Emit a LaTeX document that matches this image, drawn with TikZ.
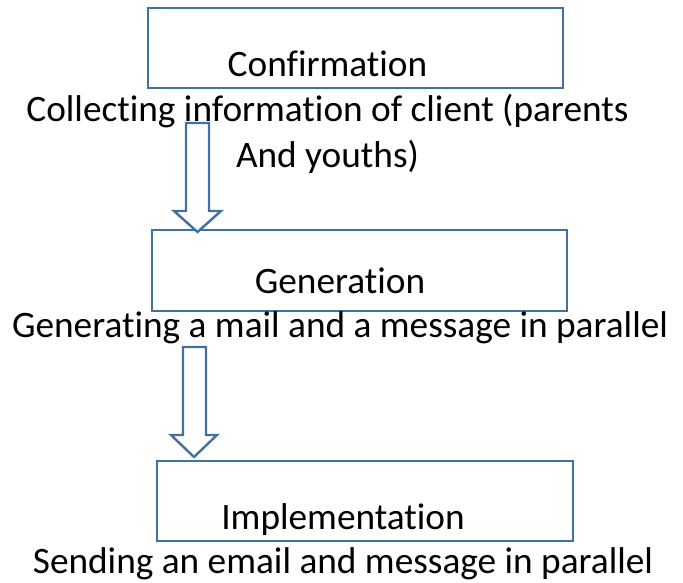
\documentclass[tikz,border=0pt]{standalone}
\usepackage{fontspec}
\setmainfont{Carlito}[Ligatures=NoCommon]
\definecolor{boxblue}{RGB}{65,113,156}
\begin{document}
\begin{tikzpicture}[x=1pt,y=-1pt,
  stepbox/.style={draw=boxblue,line width=2.4pt,inner sep=0pt},
  lbl/.style={anchor=base,inner sep=0pt,font=\fontsize{37.3}{44}\selectfont},
  blockarrow/.style={draw=boxblue,line width=2.4pt,fill=white,line join=miter}]
\useasboundingbox (0,0) rectangle (683,582);
% boxes
\draw[stepbox] (148,8) rectangle (563,88);
\draw[stepbox] (152,230) rectangle (567,311);
\draw[stepbox] (157,461) rectangle (573,541);
\node[lbl] (t1) at (327.5,76) {Confirmation};
\node[lbl] (d1a) at (327.5,121) {Collecting information of client (parents};
\node[lbl] (d1b) at (327.5,167) {And youths)};
\node[lbl] (t2) at (340,293) {Generation};
\node[lbl] (d2) at (340,337) {Generating a mail and a message in parallel};
\node[lbl] (t3) at (343,529) {Implementation};
\node[lbl] (d3) at (343,573) {Sending an email and message in parallel};
% block arrows
\draw[blockarrow] (186,123) -- (209,123) -- (209,211) -- (221,211) -- (197.5,232) -- (174,211) -- (186,211) -- cycle;
\draw[blockarrow] (183,347) -- (206,347) -- (206,435) -- (217,435) -- (194,457) -- (171,435) -- (183,435) -- cycle;
\end{tikzpicture}
\end{document}
